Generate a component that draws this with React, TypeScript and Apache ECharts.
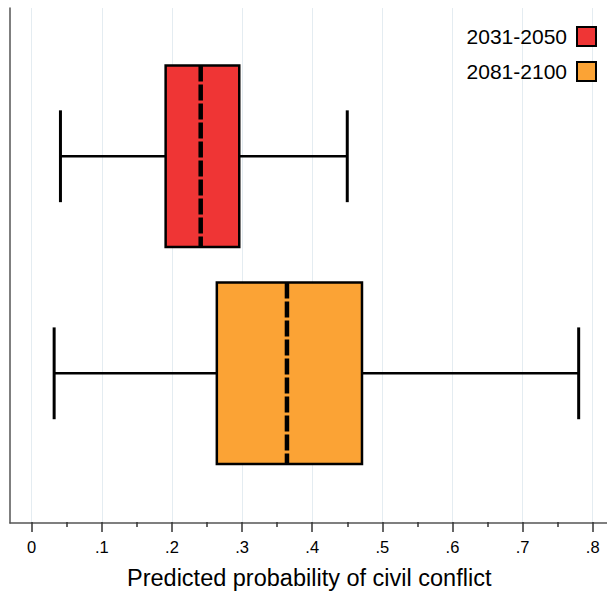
import React, { useEffect, useRef } from "react";
import * as echarts from "echarts";

const categories = ["2031-2050", "2081-2100"];
const lowerWhisker = [0.041, 0.032];
const q1 = [0.191, 0.264];
const median = [0.241, 0.364];
const q3 = [0.296, 0.471];
const upperWhisker = [0.450, 0.780];
const colors = ["#EF3535", "#FBA335"];

const FONT = "'Liberation Sans', Arial, sans-serif";

export default function App() {
  const ref = useRef<HTMLDivElement>(null);
  useEffect(() => {
    if (!ref.current) return;
    const chart = echarts.init(ref.current, null, { renderer: "svg" });

    const renderItem = (params: any, api: any) => {
      const y = api.value(0);
      const lo = api.coord([api.value(1), y]);
      const b1 = api.coord([api.value(2), y]);
      const md = api.coord([api.value(3), y]);
      const b3 = api.coord([api.value(4), y]);
      const hi = api.coord([api.value(5), y]);
      const boxH = api.size([0, 0.836])[1];
      const capH = api.size([0, 0.423])[1];
      const cy = lo[1];
      const color = colors[params.seriesIndex];
      const lineStyle = { stroke: "#000", lineWidth: 2.5 };
      return {
        type: "group",
        children: [
          { type: "line", shape: { x1: lo[0], y1: cy, x2: b1[0], y2: cy }, style: lineStyle },
          { type: "line", shape: { x1: b3[0], y1: cy, x2: hi[0], y2: cy }, style: lineStyle },
          { type: "line", shape: { x1: lo[0], y1: cy - capH / 2, x2: lo[0], y2: cy + capH / 2 }, style: { stroke: "#000", lineWidth: 3 } },
          { type: "line", shape: { x1: hi[0], y1: cy - capH / 2, x2: hi[0], y2: cy + capH / 2 }, style: { stroke: "#000", lineWidth: 3 } },
          {
            type: "rect",
            shape: { x: b1[0], y: cy - boxH / 2, width: b3[0] - b1[0], height: boxH },
            style: { fill: color, stroke: "#000", lineWidth: 2.5 },
          },
          {
            type: "line",
            shape: { x1: md[0], y1: cy - boxH / 2, x2: md[0], y2: cy + boxH / 2 },
            style: { stroke: "#000", lineWidth: 4.5, lineDash: [16, 3] },
          },
        ],
      };
    };

    const series = categories.map((name, i) => ({
      type: "custom",
      name,
      xAxisIndex: 1,
      yAxisIndex: 1,
      clip: false,
      renderItem,
      itemStyle: { color: colors[i], borderColor: "#000", borderWidth: 2 },
      encode: { x: [1, 2, 3, 4, 5], y: 0 },
      data: [[i, lowerWhisker[i], q1[i], median[i], q3[i], upperWhisker[i]]],
    }));

    chart.setOption({
      animation: false,
      backgroundColor: "#fff",
      textStyle: { fontFamily: FONT },
      grid: [
        { left: 10, right: 0, top: 8, bottom: 72 },
        { left: 31.7, right: 14.3, top: 8, bottom: 72 },
      ],
      legend: {
        orient: "vertical",
        right: 10,
        top: 26,
        align: "right",
        icon: "rect",
        itemWidth: 19,
        itemHeight: 19,
        itemGap: 14,
        padding: 0,
        textStyle: { fontSize: 21, color: "#000", fontFamily: FONT, padding: [0, 5, 0, 0] },
        data: categories.map((name, i) => ({
          name,
          itemStyle: { color: colors[i], borderColor: "#000", borderWidth: 2 },
        })),
      },
      xAxis: [
        {
          type: "value",
          gridIndex: 0,
          min: 0,
          max: 1,
          axisLine: { show: true, onZero: false, lineStyle: { color: "#555", width: 1.5 } },
          axisTick: { show: false },
          axisLabel: { show: false },
          splitLine: { show: false },
        },
        {
          type: "value",
          gridIndex: 1,
          min: 0,
          max: 0.8,
          interval: 0.1,
          name: "Predicted probability of civil conflict",
          nameLocation: "middle",
          nameGap: 44,
          nameTextStyle: { fontSize: 23.5, color: "#000", fontFamily: FONT, padding: [0, 6, 0, 0] },
          axisLine: { show: false, onZero: false },
          axisTick: { show: true, length: 10, lineStyle: { color: "#333", width: 1.5 } },
          minorTick: { show: true, splitNumber: 2, length: 5, lineStyle: { color: "#333", width: 1.5 } },
          axisLabel: {
            margin: 16,
            fontSize: 16.5,
            color: "#000",
            fontFamily: FONT,
            formatter: (v: number) => (Math.abs(v) < 1e-9 ? "0" : v.toFixed(1).replace(/^0/, "")),
          },
          splitLine: { show: true, lineStyle: { color: "#E4ECF1", width: 1 } },
        },
      ],
      yAxis: [
        {
          type: "value",
          gridIndex: 0,
          min: 0,
          max: 1,
          axisLine: { show: true, onZero: false, lineStyle: { color: "#555", width: 1.5 } },
          axisTick: { show: false },
          axisLabel: { show: false },
          splitLine: { show: false },
        },
        {
          type: "value",
          gridIndex: 1,
          inverse: true,
          min: -0.683,
          max: 1.685,
          show: false,
          splitLine: { show: false },
        },
      ],
      series,
    });
    return () => chart.dispose();
  }, []);
  return <div ref={ref} style={{ width: 607, height: 595, position: "absolute", left: 0, top: 0 }} />;
}
